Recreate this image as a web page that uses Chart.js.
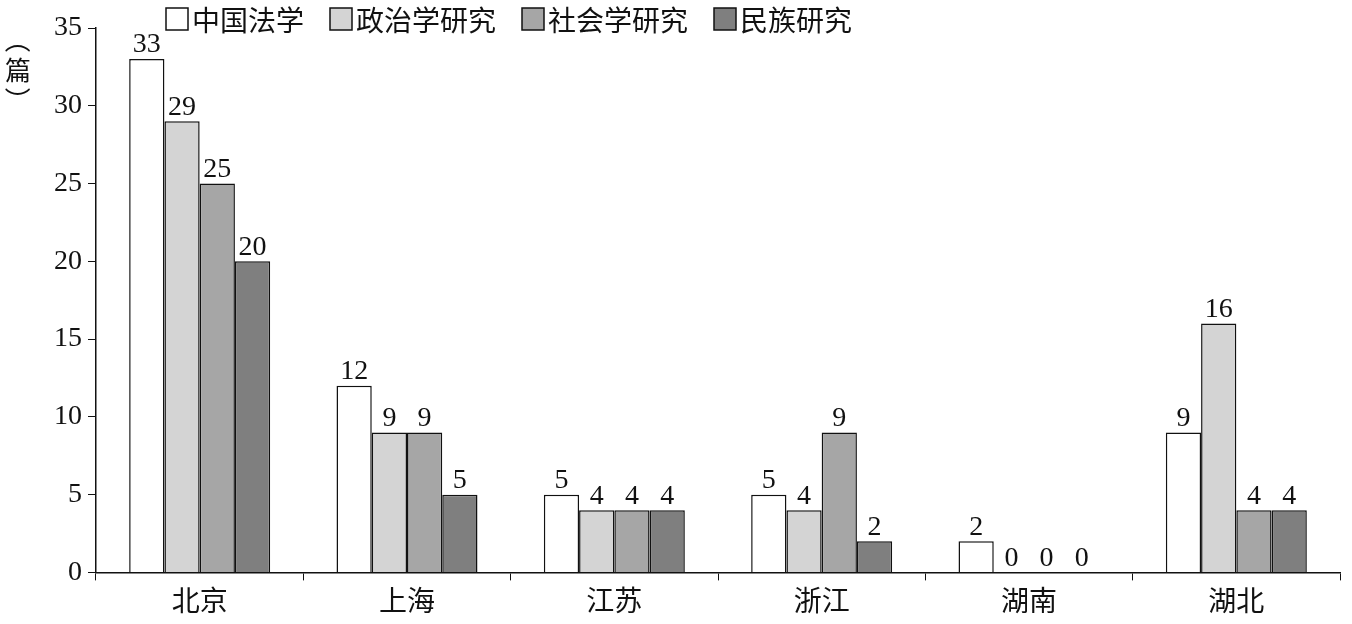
<!DOCTYPE html>
<html>
<head>
<meta charset="utf-8">
<script src="https://cdn.jsdelivr.net/npm/chart.js@4"></script>
<style>
  body { margin: 0; background: #fff; }
  #wrap { width: 1352px; height: 624px; }
</style>
</head>
<body>
<div id="wrap"><canvas id="chart"></canvas></div>
<script>
const regions = ['北京', '上海', '江苏', '浙江', '湖南', '湖北'];
const seriesNames = ['中国法学', '政治学研究', '社会学研究', '民族研究'];
const faxue = [33, 12, 5, 5, 2, 9];
const zhengzhi = [29, 9, 4, 4, 0, 16];
const shehui = [25, 9, 4, 9, 0, 4];
const minzu = [20, 5, 4, 2, 0, 4];
const fills = ['#ffffff', '#d4d4d4', '#a6a6a6', '#7f7f7f'];

const FONT = '"Liberation Serif", "Noto Sans CJK SC", serif';
const CJK = '"Noto Sans CJK SC", serif';

// numbers above each bar
const valueLabels = {
  id: 'valueLabels',
  afterDatasetsDraw(chart) {
    const ctx = chart.ctx;
    ctx.save();
    ctx.font = '28px ' + FONT;
    ctx.fillStyle = '#111';
    ctx.textAlign = 'center';
    ctx.textBaseline = 'bottom';
    chart.data.datasets.forEach((ds, i) => {
      chart.getDatasetMeta(i).data.forEach((bar, j) => {
        ctx.fillText(ds.data[j], bar.x, bar.y);
      });
    });
    ctx.restore();
  }
};

// unit label and legend drawn by hand
const extras = {
  id: 'extras',
  afterDraw(chart) {
    const ctx = chart.ctx;
    ctx.save();
    ctx.fillStyle = '#111';
    ctx.textAlign = 'center';
    ctx.textBaseline = 'middle';
    ctx.font = '26px ' + CJK;
    ctx.fillText('篇', 18, 70);
    ctx.save();
    ctx.translate(18, 70);
    ctx.rotate(Math.PI / 2);
    ctx.fillText('（', -30, 0);
    ctx.fillText('）', 30, 0);
    ctx.restore();

    ctx.textAlign = 'left';
    ctx.font = '28px ' + CJK;
    let x = 166;
    seriesNames.forEach((name, i) => {
      ctx.fillStyle = fills[i];
      ctx.fillRect(x, 8, 22, 22);
      ctx.strokeStyle = '#111';
      ctx.lineWidth = 1.5;
      ctx.strokeRect(x, 8, 22, 22);
      ctx.fillStyle = '#111';
      ctx.fillText(name, x + 26, 20);
      x += 26 + ctx.measureText(name).width + 26;
    });
    ctx.restore();
  }
};

const datasets = [faxue, zhengzhi, shehui, minzu].map((d, i) => ({
  label: seriesNames[i],
  data: d,
  backgroundColor: fills[i],
  borderColor: '#111',
  borderWidth: 1.5,
  barPercentage: 1,
  categoryPercentage: 0.68
}));

new Chart(document.getElementById('chart'), {
  type: 'bar',
  data: { labels: regions, datasets },
  options: {
    responsive: true,
    maintainAspectRatio: false,
    animation: false,
    layout: { padding: { left: 48, right: 12, top: 28, bottom: 4 } },
    plugins: {
      legend: { display: false },
      tooltip: { enabled: false }
    },
    scales: {
      x: {
        grid: { display: true, drawOnChartArea: false, offset: true, color: '#111', tickLength: 8 },
        border: { color: '#111', width: 1.5 },
        ticks: { font: { size: 28, family: CJK }, color: '#111' }
      },
      y: {
        min: 0,
        max: 35,
        ticks: { stepSize: 5, font: { size: 28, family: FONT }, color: '#111', padding: 6 },
        grid: { display: true, drawOnChartArea: false, color: '#111', tickLength: 8 },
        border: { color: '#111', width: 1.5 }
      }
    }
  },
  plugins: [valueLabels, extras]
});
</script>
</body>
</html>
